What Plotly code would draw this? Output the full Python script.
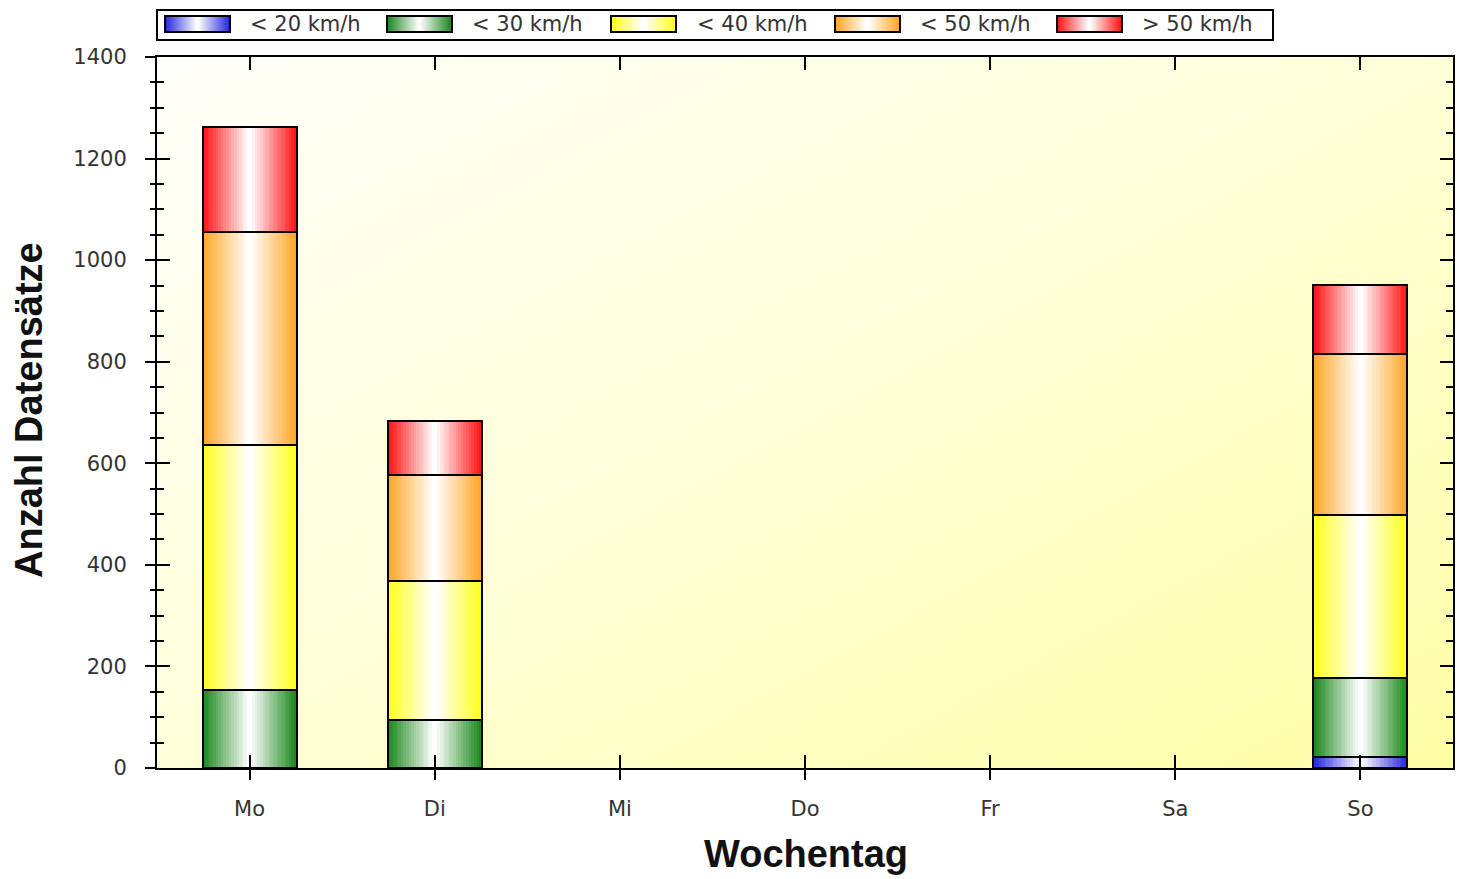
import plotly.graph_objects as go
import numpy as np

# ---------------- data ----------------
days = ["Mo", "Di", "Mi", "Do", "Fr", "Sa", "So"]
series_names = ["< 20 km/h", "< 30 km/h", "< 40 km/h", "< 50 km/h", "> 50 km/h"]
v_lt20 = [0, 0, 0, 0, 0, 0, 22]
v_lt30 = [154, 95, 0, 0, 0, 0, 155]
v_lt40 = [482, 273, 0, 0, 0, 0, 321]
v_lt50 = [419, 209, 0, 0, 0, 0, 317]
v_gt50 = [207, 106, 0, 0, 0, 0, 136]
y_ticks = [0, 200, 400, 600, 800, 1000, 1200, 1400]

series_values = [v_lt20, v_lt30, v_lt40, v_lt50, v_gt50]
colors = ["#2A2AE0", "#1E8A1E", "#FFFF1E", "#FFA828", "#FF1616"]

# ---------------- style ----------------
OFF = 8  # default page margin of the html body
W, H = 1468 - OFF, 879 - OFF
# plot area in page pixels: x 157..1453, y 57..768
PX0, PX1, PY0, PY1 = 157, 1453, 57, 768
ML, MT = PX0 - OFF, PY0 - OFF
MR, MB = W - (PX1 - OFF), H - (PY1 - OFF)
PW, PH = PX1 - PX0, PY1 - PY0
BAR_W = 0.508
NL = 18  # gradient layers
FONT = "DejaVu Sans, Verdana, sans-serif"
TFONT = "Liberation Sans, Arial, sans-serif"


def hex2rgb(h):
    h = h.lstrip("#")
    return [int(h[i:i + 2], 16) for i in (0, 2, 4)]


def mix(c, t):
    r, g, b = hex2rgb(c)
    return "rgb(%d,%d,%d)" % (r + (255 - r) * t, g + (255 - g) * t, b + (255 - b) * t)


fig = go.Figure()

# background diagonal gradient (plot area)
gx = np.linspace(-0.5, 6.5, 30)
gy = np.linspace(0, 1400, 30)
GX, GY = np.meshgrid(np.linspace(0, 1, 30), np.linspace(1, 0, 30))
fig.add_trace(go.Heatmap(
    x=gx, y=gy, z=(GX + GY) / 2.0, zsmooth="best", showscale=False,
    colorscale=[[0, "#FFFFFA"], [0.5, "#FFFFD8"], [1, "#FFFFA6"]],
    hoverinfo="skip", zmin=0, zmax=1))

xs = list(range(len(days)))
cum = [0] * len(days)
for name, vals, col in zip(series_names, series_values, colors):
    base = list(cum)
    yv = [v if v > 0 else None for v in vals]
    for k in range(NL):
        t = k / (NL - 1)
        fig.add_trace(go.Bar(
            x=xs, y=yv, base=base, width=BAR_W * (1 - k / NL),
            marker=dict(color=mix(col, t), line=dict(width=0)),
            showlegend=False, hoverinfo="skip"))
    fig.add_trace(go.Bar(
        x=xs, y=yv, base=base, width=BAR_W, name=name,
        marker=dict(color="rgba(0,0,0,0)", line=dict(width=2, color="#000")),
        showlegend=False))
    cum = [c + v for c, v in zip(cum, vals)]

# invisible trace for overlay axes (inside ticks)
fig.add_trace(go.Scatter(x=[0], y=[0], xaxis="x2", yaxis="y2", mode="markers",
                         marker=dict(opacity=0), showlegend=False, hoverinfo="skip"))

fig.update_layout(
    width=W, height=H,
    margin=dict(l=ML, r=MR, t=MT, b=MB, autoexpand=False),
    paper_bgcolor="white", plot_bgcolor="#FFFFE0",
    barmode="overlay", bargap=0,
    showlegend=False,
    xaxis=dict(range=[-0.5, 6.5], tickmode="array", tickvals=xs, ticktext=days,
               ticks="outside", ticklen=10, tickwidth=2, tickcolor="#000",
               showline=True, linecolor="#000", linewidth=2, mirror=True,
               showgrid=False, zeroline=False, ticklabelstandoff=11,
               tickfont=dict(family=FONT, size=21, color="#333")),
    yaxis=dict(range=[0, 1400], tickmode="array", tickvals=y_ticks,
               ticks="outside", ticklen=10, tickwidth=2, tickcolor="#000",
               minor=dict(dtick=50, ticks="outside", ticklen=5, tickwidth=2, tickcolor="#000", showgrid=False),
               showline=True, linecolor="#000", linewidth=2, mirror=True,
               showgrid=False, zeroline=False, ticklabelstandoff=14,
               tickfont=dict(family=FONT, size=21, color="#333")),
    xaxis2=dict(range=[-0.5, 6.5], overlaying="x", side="bottom", tickmode="array",
                tickvals=xs, showticklabels=False, ticks="inside", ticklen=13,
                tickwidth=2, tickcolor="#000", mirror="ticks", showline=True,
                linecolor="#000", linewidth=2, showgrid=False, zeroline=False),
    yaxis2=dict(range=[0, 1400], overlaying="y", side="left", tickmode="array",
                tickvals=y_ticks, showticklabels=False, ticks="inside", ticklen=13,
                tickwidth=2, tickcolor="#000", mirror="ticks", showline=True,
                minor=dict(dtick=50, ticks="inside", ticklen=7, tickwidth=2, tickcolor="#000", showgrid=False),
                linecolor="#000", linewidth=2, showgrid=False, zeroline=False),
)


def px2x(p):
    return (p - PX0) / PW


def py2y(p):
    return (PY1 - p) / PH


shapes = []
annotations = []
# legend box
shapes.append(dict(type="rect", xref="paper", yref="paper",
                   x0=px2x(157), x1=px2x(1273), y0=py2y(40), y1=py2y(10),
                   line=dict(color="#000", width=2), fillcolor="white", layer="above"))
sw_left = [165, 387, 611, 835, 1057]
txt_left = [248, 470, 695, 918, 1140]
for i, (name, col) in enumerate(zip(series_names, colors)):
    x0, x1 = sw_left[i], sw_left[i] + 65
    cx, hw = (x0 + x1) / 2, (x1 - x0) / 2
    for k in range(NL):
        t = k / (NL - 1)
        w = hw * (1 - k / NL)
        shapes.append(dict(type="rect", xref="paper", yref="paper",
                           x0=px2x(cx - w), x1=px2x(cx + w), y0=py2y(32), y1=py2y(16),
                           line=dict(width=0), fillcolor=mix(col, t), layer="above"))
    shapes.append(dict(type="rect", xref="paper", yref="paper",
                       x0=px2x(x0), x1=px2x(x1), y0=py2y(32), y1=py2y(16),
                       line=dict(color="#000", width=2), fillcolor="rgba(0,0,0,0)", layer="above"))
    annotations.append(dict(xref="paper", yref="paper", x=px2x(txt_left[i]), y=py2y(24),
                            xanchor="left", yanchor="middle", showarrow=False, text=name,
                            font=dict(family=FONT, size=21, color="#333")))

# axis titles
annotations.append(dict(xref="paper", yref="paper", x=px2x(806), y=py2y(854),
                        xanchor="center", yanchor="middle", showarrow=False, text="Wochentag",
                        font=dict(family=TFONT, size=38, color="#111", weight="bold")))
annotations.append(dict(xref="paper", yref="paper", x=px2x(29), y=py2y(410),
                        xanchor="center", yanchor="middle", showarrow=False,
                        text="Anzahl Datensätze", textangle=-90,
                        font=dict(family=TFONT, size=38, color="#111", weight="bold")))

fig.update_layout(shapes=shapes, annotations=annotations)
fig.write_html("out.html")
